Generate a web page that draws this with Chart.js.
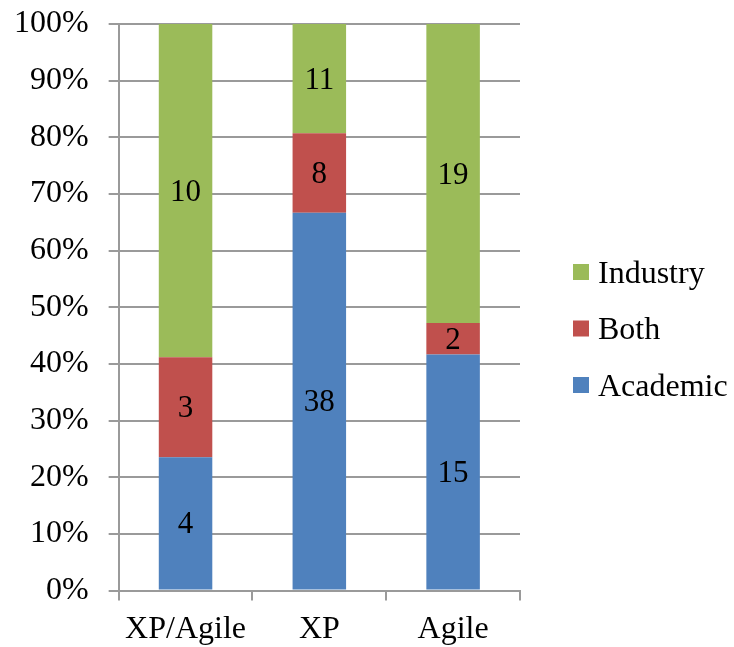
<!DOCTYPE html>
<html>
<head>
<meta charset="utf-8">
<script src="https://cdn.jsdelivr.net/npm/chart.js@4"></script>
<style>
  html, body { margin: 0; padding: 0; background: #fff; }
  #wrap { width: 734px; height: 647px; }
</style>
</head>
<body>
<div id="wrap"><canvas id="studyChart"></canvas></div>
<script>
// Studies by source, per topic
const categories = ['XP/Agile', 'XP', 'Agile'];
const academic = [4, 38, 15];
const both = [3, 8, 2];
const industry = [10, 11, 19];
const yTicks = [0, 10, 20, 30, 40, 50, 60, 70, 80, 90, 100];

const totals = categories.map((c, i) => academic[i] + both[i] + industry[i]);
function toShare(arr) {
    return arr.map((v, i) => v / totals[i] * 100);
}

const serif = 'Liberation Serif, Times New Roman, serif';
const gridGray = '#9a9a9a';

// writes the raw count in the middle of each bar segment
const countLabels = {
    id: 'countLabels',
    afterDatasetsDraw(chart) {
        const ctx = chart.ctx;
        ctx.save();
        ctx.font = '31px ' + serif;
        ctx.fillStyle = '#000';
        ctx.textAlign = 'center';
        ctx.textBaseline = 'alphabetic';
        chart.data.datasets.forEach((ds, d) => {
            const meta = chart.getDatasetMeta(d);
            meta.data.forEach((bar, i) => {
                const mid = (bar.y + bar.base) / 2;
                ctx.fillText(ds.counts[i], bar.x, mid + 10);
            });
        });
        ctx.restore();
    }
};

// legend on the right, top entry = last dataset
const sideLegend = {
    id: 'sideLegend',
    afterDraw(chart) {
        const ctx = chart.ctx;
        const area = chart.chartArea;
        const items = chart.data.datasets.slice().reverse();
        ctx.save();
        ctx.font = '32px ' + serif;
        ctx.textBaseline = 'alphabetic';
        items.forEach((ds, i) => {
            const cy = area.top + 248 + i * 56.5;
            ctx.fillStyle = ds.backgroundColor;
            ctx.fillRect(area.right + 53, cy - 8, 16, 16);
            ctx.fillStyle = '#000';
            ctx.fillText(ds.label, area.right + 78, cy + 10.5);
        });
        ctx.restore();
    }
};

var ctx = document.getElementById('studyChart').getContext('2d');
var studyChart = new Chart(ctx, {
    type: 'bar',
    data: {
        labels: categories,
        datasets: [
            { label: 'Academic', data: toShare(academic), counts: academic, backgroundColor: '#4f81bd' },
            { label: 'Both', data: toShare(both), counts: both, backgroundColor: '#c0504d' },
            { label: 'Industry', data: toShare(industry), counts: industry, backgroundColor: '#9bbb59' }
        ]
    },
    options: {
        responsive: true,
        maintainAspectRatio: false,
        animation: false,
        datasets: { bar: { barPercentage: 0.4, categoryPercentage: 1 } },
        layout: { padding: { top: 24, right: 214, bottom: -12, left: -6 } },
        plugins: {
            tooltip: { enabled: false },
            legend: { display: false }
        },
        scales: {
            x: {
                stacked: true,
                grid: {
                    offset: true,
                    drawOnChartArea: false,
                    drawTicks: true,
                    tickLength: 10,
                    color: gridGray,
                    lineWidth: 2
                },
                border: { color: gridGray, width: 2 },
                ticks: {
                    font: { family: serif, size: 32 },
                    color: '#000',
                    padding: 10
                }
            },
            y: {
                stacked: true,
                min: 0,
                max: 100,
                afterBuildTicks(axis) {
                    axis.ticks = yTicks.map(v => ({ value: v }));
                },
                afterFit(axis) {
                    axis.paddingTop = 0;
                },
                grid: {
                    color: gridGray,
                    lineWidth: 2,
                    tickLength: 10
                },
                border: { color: gridGray, width: 2 },
                ticks: {
                    font: { family: serif, size: 32 },
                    color: '#000',
                    padding: 20,
                    callback: v => v + '%'
                }
            }
        }
    },
    plugins: [countLabels, sideLegend]
});
</script>
</body>
</html>
